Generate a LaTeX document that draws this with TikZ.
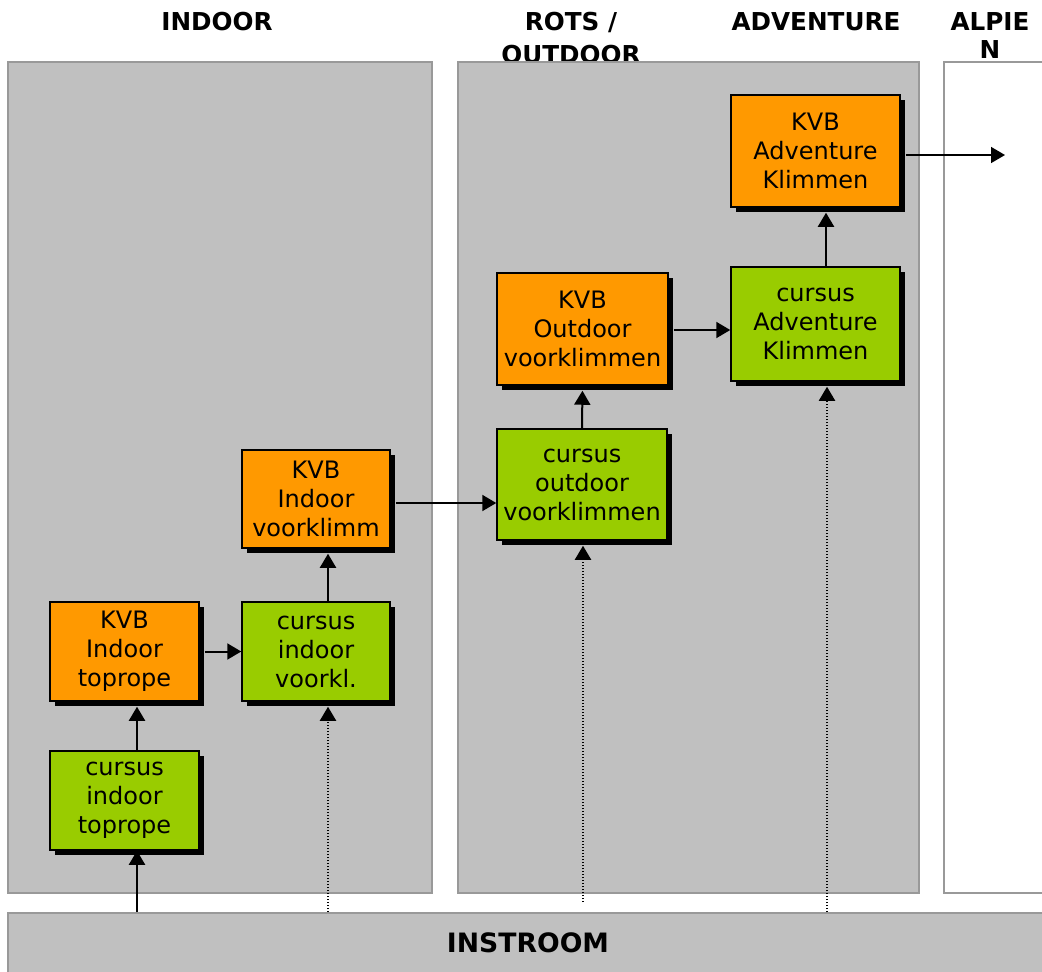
\documentclass[tikz,border=0pt]{standalone}
\usepackage{fontspec}
\setmainfont{DejaVu Sans}
\usetikzlibrary{arrows.meta,shadows}

\definecolor{kvborange}{HTML}{FF9900}
\definecolor{cursgreen}{HTML}{99CC00}
\definecolor{panelgray}{HTML}{C0C0C0}
\definecolor{panelline}{HTML}{999999}

\newlength\pxu
\setlength\pxu{0.75pt}

\begin{document}
\begin{tikzpicture}[x=\pxu, y=-\pxu,
    panel/.style={draw=panelline, line width=2\pxu, fill=panelgray, inner sep=0pt},
    stepbox/.style={draw, line width=1.5\pxu, align=center, inner sep=0pt,
        font=\fontsize{18}{21.75}\selectfont,
        general shadow={fill=black, shadow xshift=5\pxu, shadow yshift=-5\pxu}},
    kvb/.style={stepbox, fill=kvborange},
    cursus/.style={stepbox, fill=cursgreen},
    head/.style={font=\bfseries\fontsize{18.5}{21}\selectfont, align=center},
    flow/.style={line width=2\pxu, -{Triangle[length=10.5pt, width=12pt]}},
    inflow/.style={line width=2\pxu, dash pattern=on 1.5\pxu off 1.5\pxu,
        -{Triangle[length=10.5pt, width=12pt]}}]
    \useasboundingbox (0,0) rectangle (1042,971);

    % column titles (the panels cover the lower part)
    \node[head] (hindoor) at (217,22) {INDOOR};
    \node[head, font=\bfseries\fontsize{18.5}{24.75}\selectfont] (hrots) at (571,38.5) {ROTS /\\OUTDOOR};
    \node[head] (hadv) at (816,22) {ADVENTURE};
    \node[head] (halp) at (990,36) {ALPIE\\N};

    % panels
    \node[panel, minimum width=424\pxu, minimum height=831\pxu] (indoor) at (220,477.5) {};
    \node[panel, minimum width=461\pxu, minimum height=831\pxu] (rots) at (688.5,477.5) {};
    \node[panel, fill=white, minimum width=116\pxu, minimum height=831\pxu] (alpien) at (1002,477.5) {};
    \node[panel, minimum width=1040\pxu, minimum height=60\pxu,
          font=\bfseries\fontsize{20}{24}\selectfont] (instroom) at (528,943) {INSTROOM};

    % steps
    \node[cursus, minimum width=149\pxu, minimum height=99\pxu] (ctop) at (124.5,800.5) {cursus\\indoor\\toprope};
    \node[kvb, minimum width=149\pxu, minimum height=99\pxu] (ktop) at (124.5,651.5) {KVB\\Indoor\\toprope};
    \node[cursus, minimum width=148\pxu, minimum height=99\pxu] (cvoor) at (316,651.5) {cursus\\indoor\\voorkl.};
    \node[kvb, minimum width=148\pxu, minimum height=98\pxu] (kvoor) at (316,499) {KVB\\Indoor\\voorklimm};
    \node[cursus, minimum width=170\pxu, minimum height=111\pxu] (cout) at (582,484.5) {cursus\\outdoor\\voorklimmen};
    \node[kvb, minimum width=171\pxu, minimum height=112\pxu] (kout) at (582.5,329) {KVB\\Outdoor\\voorklimmen};
    \node[cursus, minimum width=169\pxu, minimum height=114\pxu] (cadv) at (815.5,324) {cursus\\Adventure\\Klimmen};
    \node[kvb, minimum width=169\pxu, minimum height=112\pxu] (kadv) at (815.5,151) {KVB\\Adventure\\Klimmen};
    \coordinate (exit) at (1005,155);

    % arrow feet
    \coordinate (ctopin) at ([xshift=12.5\pxu]ctop.south);
    \coordinate (ctopout) at ([xshift=12.5\pxu]ctop.north);
    \coordinate (ktopin) at ([xshift=12.5\pxu]ktop.south);
    \coordinate (cvoorin) at ([xshift=12\pxu]cvoor.south);
    \coordinate (cvoorout) at ([xshift=12\pxu]cvoor.north);
    \coordinate (kvoorin) at ([xshift=12\pxu]kvoor.south);
    \coordinate (kvoorout) at ([yshift=-4\pxu]kvoor.east);
    \coordinate (coutin) at ([xshift=1\pxu]cout.south);
    \coordinate (koutout) at ([yshift=-1\pxu]kout.east);
    \coordinate (cadvin) at ([xshift=11.5\pxu]cadv.south);
    \coordinate (cadvout) at ([xshift=10.5\pxu]cadv.north);
    \coordinate (kadvin) at ([xshift=10.5\pxu]kadv.south);
    \coordinate (kadvout) at ([yshift=-4\pxu]kadv.east);

    % arrows
    \draw[flow] (ctopin |- instroom.north) -- (ctopin);
    \draw[flow, shorten >=5\pxu] (ctopout) -- (ktopin);
    \draw[flow, shorten <=5\pxu] (ktop.east) -- (ktop.east -| cvoor.west);
    \draw[inflow, shorten >=5\pxu] (cvoorin |- instroom.north) -- (cvoorin);
    \draw[flow, shorten >=5\pxu] (cvoorout) -- (kvoorin);
    \draw[flow, shorten <=5\pxu] (kvoorout) -- (kvoorout -| cout.west);
    \draw[inflow, shorten <=10\pxu, shorten >=5\pxu] (coutin |- instroom.north) -- (coutin);
    \draw[flow, shorten >=5\pxu] (cout.north) -- (kout.south);
    \draw[flow, shorten <=5\pxu] (koutout) -- (koutout -| cadv.west);
    \draw[inflow, shorten >=5\pxu] (cadvin |- instroom.north) -- (cadvin);
    \draw[flow, shorten >=5\pxu] (cadvout) -- (kadvin);
    \draw[flow, line width=1.5\pxu, shorten <=5\pxu] (kadvout) -- (exit);
\end{tikzpicture}
\end{document}
